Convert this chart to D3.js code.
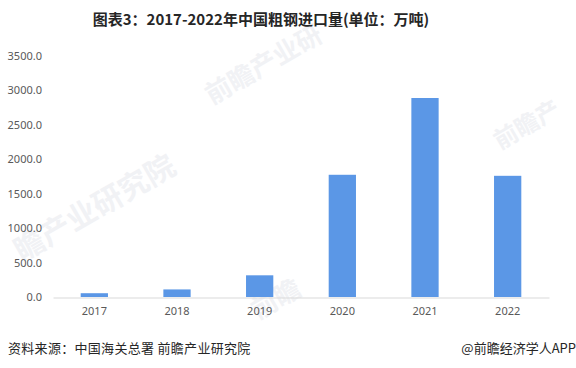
<!DOCTYPE html>
<html>
<head>
<meta charset="utf-8">
<script src="https://cdn.jsdelivr.net/npm/d3@7"></script>
<style>
  body { margin: 0; background: #fff; }
  svg { display: block; font-family: "Noto Sans CJK SC", "Noto Sans", sans-serif; }
</style>
</head>
<body>
<svg id="chart"></svg>
<script>
// data
const years = ['2017', '2018', '2019', '2020', '2021', '2022'];
const imports = [55, 110, 315, 1775, 2890, 1760];
const yTicks = [0, 500, 1000, 1500, 2000, 2500, 3000, 3500];

const W = 576, H = 368;
const margin = { top: 56, right: 27, bottom: 71, left: 53 };

const svg = d3.select('#chart')
  .attr('width', W)
  .attr('height', H);

svg.append('rect').attr('width', W).attr('height', H).attr('fill', '#fff');

// faint watermarks
const wm = svg.append('g').attr('fill', '#f1f2f5').attr('font-weight', 'bold');
wm.append('text')
  .attr('transform', 'translate(22,262) rotate(-30)')
  .attr('font-size', 30)
  .text('瞻产业研究院');
wm.append('text')
  .attr('transform', 'translate(212,105) rotate(-30)')
  .attr('font-size', 26)
  .text('前瞻产业研');
wm.append('text')
  .attr('transform', 'translate(500,150) rotate(-30)')
  .attr('font-size', 24)
  .text('前瞻产');
wm.append('text')
  .attr('transform', 'translate(258,320) rotate(-30)')
  .attr('font-size', 26)
  .text('前瞻');

const x = d3.scaleBand()
  .domain(years)
  .range([margin.left, W - margin.right])
  .padding(0);

const y = d3.scaleLinear()
  .domain([0, 3500])
  .range([H - margin.bottom, margin.top]);

const barFrac = 0.33;
const bw = x.bandwidth() * barFrac;

svg.append('g')
  .attr('fill', '#5B97E6')
  .selectAll('rect')
  .data(imports)
  .join('rect')
  .attr('x', (d, i) => x(years[i]) + (x.bandwidth() - bw) / 2)
  .attr('y', d => y(d))
  .attr('width', bw)
  .attr('height', d => y(0) - y(d));

// x axis
const xAxis = svg.append('g')
  .attr('transform', `translate(0,${y(0) + 0.5})`)
  .call(d3.axisBottom(x).tickSize(0).tickPadding(10));
xAxis.select('.domain').attr('stroke', '#d9d9d9');
xAxis.selectAll('text')
  .attr('fill', '#595959')
  .attr('font-size', 11)
  .attr('font-family', '"Noto Sans", sans-serif');

// y axis (labels only)
const yAxis = svg.append('g')
  .attr('transform', `translate(${margin.left},0)`)
  .call(d3.axisLeft(y).tickValues(yTicks).tickFormat(d3.format('.1f')).tickSize(0).tickPadding(11));
yAxis.select('.domain').remove();
yAxis.selectAll('text')
  .attr('fill', '#595959')
  .attr('font-size', 11)
  .attr('font-family', '"Noto Sans", sans-serif');

// title
svg.append('text')
  .attr('x', 261)
  .attr('y', 25)
  .attr('text-anchor', 'middle')
  .attr('font-size', 15)
  .attr('font-weight', 'bold')
  .attr('fill', '#262626')
  .text('图表3：2017-2022年中国粗钢进口量(单位：万吨)');

// footer
svg.append('text')
  .attr('x', 8)
  .attr('y', 353)
  .attr('font-size', 13)
  .attr('letter-spacing', 0.3)
  .attr('fill', '#262626')
  .text('资料来源：中国海关总署 前瞻产业研究院');

svg.append('text')
  .attr('x', 576)
  .attr('y', 353)
  .attr('text-anchor', 'end')
  .attr('font-size', 13)
  .attr('fill', '#262626')
  .text('@前瞻经济学人APP');
</script>
</body>
</html>
